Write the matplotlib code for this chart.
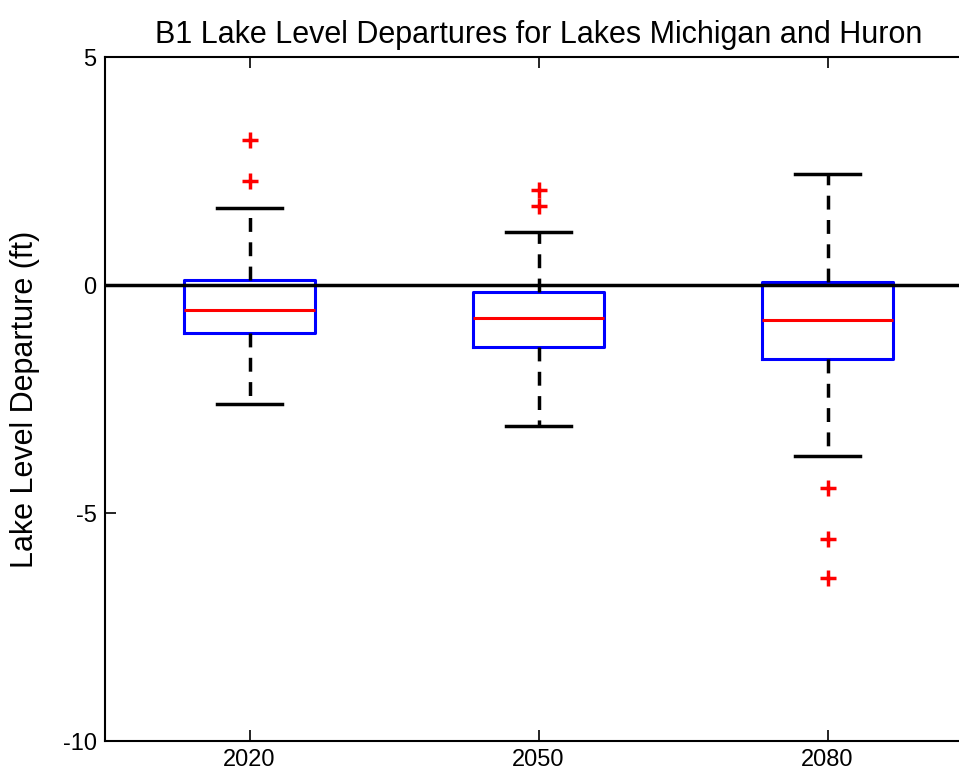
import matplotlib
matplotlib.use('Agg')
from matplotlib import pyplot as plt

plt.rcParams['font.family'] = ['Liberation Sans', 'DejaVu Sans']
plt.rcParams['axes.unicode_minus'] = False

# box statistics per horizon (ft)
years = ['2020', '2050', '2080']
medians = [-0.55, -0.73, -0.77]
q1 = [-1.06, -1.35, -1.62]
q3 = [0.12, -0.15, 0.07]
whislo = [-2.61, -3.09, -3.75]
whishi = [1.68, 1.17, 2.43]
outliers = [[3.18, 2.27], [2.08, 1.74], [-4.46, -5.56, -6.43]]

stats = []
for i in range(len(years)):
    stats.append({'med': medians[i], 'q1': q1[i], 'q3': q3[i],
                  'whislo': whislo[i], 'whishi': whishi[i],
                  'fliers': outliers[i], 'label': years[i]})

fig = plt.figure(figsize=(9.59, 7.79), dpi=100)
ax = fig.add_axes([105 / 959, 38 / 779, 867 / 959, 684 / 779])

ax.bxp(stats, positions=[1, 2, 3], widths=0.455, showfliers=True,
       boxprops=dict(color='#0000ff', linewidth=2.2),
       medianprops=dict(color='#ff0000', linewidth=2.2),
       whiskerprops=dict(color='black', linewidth=2.5, linestyle=(0, (4, 3))),
       capprops=dict(color='black', linewidth=2.5),
       capwidths=0.225,
       flierprops=dict(marker='+', markeredgecolor='#ff0000', markersize=12,
                       markeredgewidth=2.5, linestyle='none'))

ax.axhline(0, color='black', linewidth=2.5, zorder=5)

ax.set_xlim(0.5, 3.5)
ax.set_ylim(-10, 5)
ax.set_yticks([-10, -5, 0, 5])
ax.set_xticks([1, 2, 3])
ax.set_xticklabels(years)
ax.tick_params(direction='in', length=8, width=1.2, labelsize=17,
               top=True, right=True, pad=6)
for s in ax.spines.values():
    s.set_linewidth(1.5)

ax.set_title('B1 Lake Level Departures for Lakes Michigan and Huron',
             fontsize=22, pad=10)
ax.set_ylabel('Lake Level Departure (ft)', fontsize=22, labelpad=16)

fig.savefig('out.png', dpi=100)
